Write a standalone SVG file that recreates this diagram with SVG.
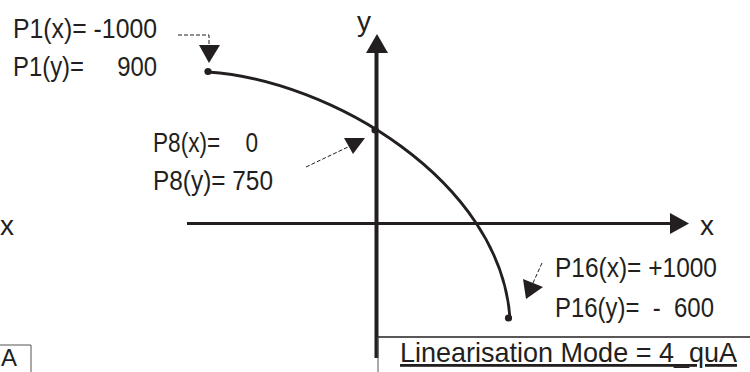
<svg xmlns="http://www.w3.org/2000/svg" width="750" height="372" viewBox="0 0 750 372">
<style>
.t{font-family:"Liberation Sans",Arial,sans-serif;font-size:28px;fill:#231f20;white-space:pre}
.ax{stroke:#231f20;fill:none}
.ah{fill:#231f20}
.lead{stroke:#231f20;stroke-width:1;stroke-dasharray:4 2;fill:none}
.dot{fill:#231f20}
</style>
<rect width="750" height="372" fill="#ffffff"/>
<g id="axes">
<line class="ax" x1="187" y1="223.5" x2="672" y2="223.5" stroke-width="3"/>
<polygon class="ah" points="670,213 670,234 689,223.5"/>
<line class="ax" x1="376.5" y1="51" x2="376.5" y2="358" stroke-width="4"/>
<polygon class="ah" points="377,34 366,53 388,53"/>
<text class="t" x="357" y="31">y</text>
<text class="t" x="700" y="235">x</text>
<text class="t" x="0" y="235">x</text>
</g>
<g id="curve">
<path d="M208,72 C330,80 500,180 510,318" fill="none" stroke="#231f20" stroke-width="2.8"/>
<circle class="dot" cx="208" cy="71.5" r="3.6"/>
<circle class="dot" cx="375" cy="130" r="3.6"/>
<circle class="dot" cx="508.5" cy="318" r="3.6"/>
</g>
<g id="connectors">
<path class="lead" d="M178,35 H209 V45"/>
<polygon class="ah" points="199,45 220,45 209,63"/>
<path class="lead" d="M306,167 L348,147"/>
<polygon class="ah" points="344,138 365,138 353,154"/>
<path class="lead" d="M542,263 L533,283"/>
<polygon class="ah" points="523,279 543,287 526,299"/>
</g>
<g id="p1">
<text class="t" x="13" y="38" textLength="144" lengthAdjust="spacingAndGlyphs">P1(x)= -1000</text>
<text class="t" x="13" y="76" textLength="144" lengthAdjust="spacingAndGlyphs">P1(y)=     900</text>
</g>
<g id="p8">
<text class="t" x="153" y="152" textLength="105" lengthAdjust="spacingAndGlyphs">P8(x)=    0</text>
<text class="t" x="153" y="190" textLength="120" lengthAdjust="spacingAndGlyphs">P8(y)= 750</text>
</g>
<g id="p16">
<text class="t" x="555" y="277" textLength="162" lengthAdjust="spacingAndGlyphs">P16(x)= +1000</text>
<text class="t" x="555" y="317" textLength="159" lengthAdjust="spacingAndGlyphs">P16(y)=  -  600</text>
</g>
<g id="mode">
<line x1="377" y1="337" x2="750" y2="337" stroke="#231f20" stroke-width="1.5"/>
<line x1="378" y1="337" x2="378" y2="372" stroke="#555" stroke-width="1"/>
<text class="t" x="400" y="362" textLength="337" lengthAdjust="spacingAndGlyphs" text-decoration="underline">Linearisation Mode = 4_quA</text>
</g>
<g id="mode-left">
<polyline points="0,345 31,345 31,372" fill="none" stroke="#555" stroke-width="1"/>
<text class="t" x="1" y="366" style="font-size:24px">A</text>
</g>
</svg>
